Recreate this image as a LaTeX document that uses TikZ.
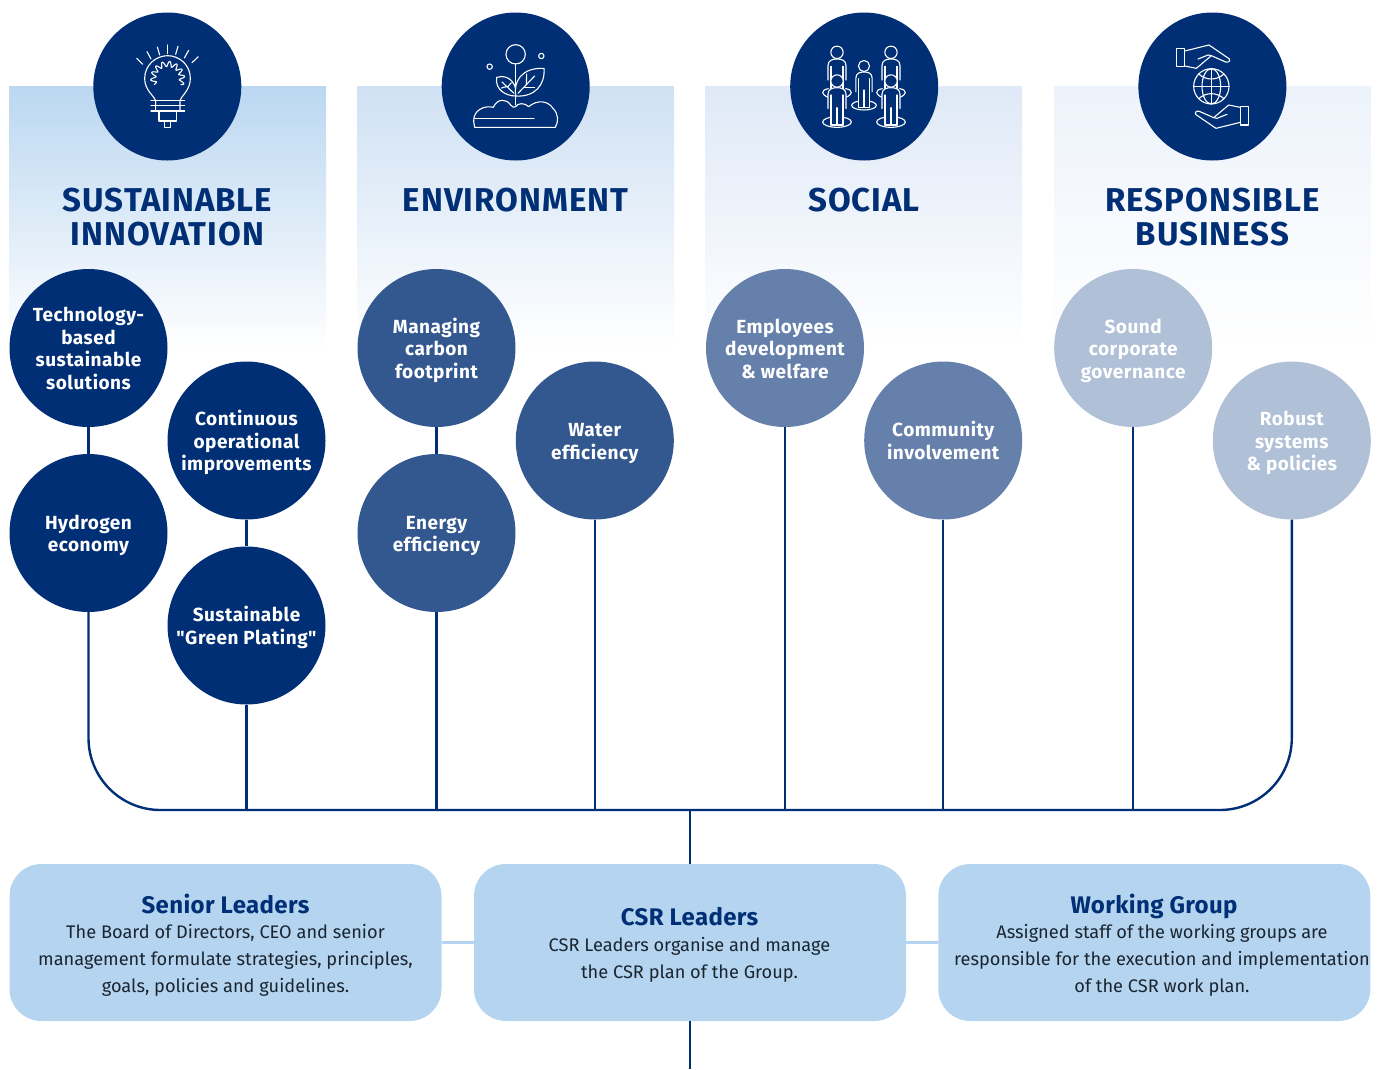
\documentclass[tikz,border=0pt]{standalone}
\usepackage{fontspec}
\setmainfont{Fira Sans}
\newfontfamily\headf[LetterSpace=3]{Fira Sans}
\newfontfamily\topicf[LetterSpace=2.6]{Fira Sans}
\newfontfamily\titlef[LetterSpace=1.5]{Fira Sans}
\usetikzlibrary{calc}
\definecolor{navy}{HTML}{002F75}
\definecolor{cA}{HTML}{33578F}
\definecolor{cB}{HTML}{6680AC}
\definecolor{cC}{HTML}{B0C0D7}
\definecolor{boxc}{HTML}{B5D4F0}
\definecolor{pA}{HTML}{BBD7F1}
\definecolor{pB}{HTML}{CFE1F4}
\definecolor{pC}{HTML}{DFE9F7}
\definecolor{pD}{HTML}{EDF3FB}
\definecolor{bodyc}{HTML}{1A2530}
\newcommand\ts{\rule{0pt}{20pt}}
\tikzset{
  topic/.style={circle,minimum size=158pt,inner sep=0pt,text=white,align=center,
    font=\fontsize{19}{22.5}\selectfont\topicf\bfseries,
    execute at end node={\rule[-5pt]{0pt}{5pt}}},
  iconc/.style={circle,minimum size=148pt,inner sep=0pt,fill=navy},
  head/.style={align=center,text=navy,font=\fontsize{33}{34}\selectfont\headf\bfseries},
  wire/.style={draw=navy,line width=2.4pt},
  softwire/.style={draw=boxc,line width=3pt},
  panelbox/.style={rounded corners=32pt,fill=boxc,minimum width=432pt,minimum height=157pt,inner sep=0pt},
  boxtitle/.style={text=navy,font=\fontsize{24}{26}\selectfont\titlef\bfseries},
  boxtext/.style={text=bodyc,align=center,font=\fontsize{18.2}{27}\selectfont},
  ic/.style={draw=white,line width=1.1pt,line join=round,line cap=round},
  zoomed/.style={x=0.33333pt,y=-0.33333pt}
}
\newcommand\zperson[4]{% x, head y, body bottom (legs), scale factor
  \draw[ic,fill=navy] ({#1-#4*27},{#2+#4*55+28}) -- ({#1-#4*27},{#2+#4*40}) .. controls ({#1-#4*27},{#2+#4*24}) and ({#1-#4*14},{#2+#4*20}) .. (#1,{#2+#4*20}) .. controls ({#1+#4*14},{#2+#4*20}) and ({#1+#4*27},{#2+#4*24}) .. ({#1+#4*27},{#2+#4*40}) -- ({#1+#4*27},{#2+#4*55+28});
  \draw[ic,fill=navy] ({#1-#4*18},{#2+#4*42}) -- ({#1-#4*18},#3) -- ({#1+#4*18},#3) -- ({#1+#4*18},{#2+#4*42});
  \draw[ic] (#1,{#2+#4*80}) -- (#1,#3);
  \draw[ic,fill=navy] (#1,#2) circle[radius=#4*18.5];
}
\newcommand\zring[4]{% x,y,rx,ry
  \draw[ic] (#1,#2) ellipse[x radius=#3,y radius=#4];
}
\begin{document}
\begin{tikzpicture}[x=1pt,y=-1pt]
\useasboundingbox (0,0) rectangle (1382,1069);
% gradient panels
\shade[top color=pA,bottom color=white] (9,86) rectangle (326,350);
\shade[top color=pB,bottom color=white] (357,86) rectangle (674,350);
\shade[top color=pC,bottom color=white] (705,86) rectangle (1022,350);
\shade[top color=pD,bottom color=white] (1054,86) rectangle (1371,350);
% icon discs
\node[iconc] (i1) at (167.3,86.5) {};
\node[iconc] (i2) at (515.7,86.5) {};
\node[iconc] (i3) at (864.2,86.5) {};
\node[iconc] (i4) at (1212.4,86.5) {};
% headings
\node[head] (h1) at (167.5,217.5) {SUSTAINABLE\\INNOVATION};
\node[head] (h2) at (515.5,200.5) {ENVIRONMENT};
\node[head] (h3) at (864,200.5) {SOCIAL};
\node[head] (h4) at (1212.5,217.5) {RESPONSIBLE\\BUSINESS};
% topics
\node[topic,fill=navy] (a) at (88.5,348) {\ts Technology-\\based\\sustainable\\solutions};
\node[topic,fill=navy] (b) at (88.5,533) {\ts Hydrogen\\economy};
\node[topic,fill=navy] (c) at (246.5,440.5) {\ts Continuous\\operational\\improvements};
\node[topic,fill=navy] (d) at (246.5,625.5) {\ts Sustainable\\"Green Plating"};
\node[topic,fill=cA] (e) at (436.5,348) {\ts Managing\\carbon\\footprint};
\node[topic,fill=cA] (f) at (436.5,533) {\ts Energy\\efficiency};
\node[topic,fill=cA] (g) at (594.8,440.5) {\ts Water\\efficiency};
\node[topic,fill=cB] (j) at (785,348) {\ts Employees\\development\\\& welfare};
\node[topic,fill=cB] (k) at (943.2,440.5) {\ts Community\\involvement};
\node[topic,fill=cC] (m) at (1133.2,348) {\ts Sound\\corporate\\governance};
\node[topic,fill=cC] (n) at (1291.8,440.5) {\ts Robust\\systems\\\& policies};
% boxes
\node[panelbox] (s) at (225.5,942.5) {};
\node[panelbox] (l) at (690,942.5) {};
\node[panelbox] (w) at (1154.3,942.5) {};
\node[boxtitle] (st) at (225.5,903.5) {Senior Leaders};
\node[boxtext] (sd) at (225.5,960.5) {The Board of Directors, CEO and senior\\management formulate strategies, principles,\\goals, policies and guidelines.};
\node[boxtitle] (lt) at (689.5,917) {CSR Leaders};
\node[boxtext] (ld) at (689.5,960) {CSR Leaders organise and manage\\the CSR plan of the Group.};
\node[boxtitle] (wt) at (1154,906) {Working Group};
\node[boxtext] (wd) at (1162,960.5) {Assigned staff of the working groups are\\responsible for the execution and implementation\\of the CSR work plan.};
% connectors
\coordinate (busy) at (0,810);
\coordinate (foot) at (690,1069);
\draw[wire] (a.south) -- (b.north);
\draw[wire] (c.south) -- (d.north);
\draw[wire] (e.south) -- (f.north);
\draw[wire,rounded corners=72pt] (b.south) -- (b.south |- busy) -- (n.south |- busy) -- (n.south);
\draw[wire] (d.south) -- (d.south |- busy);
\draw[wire] (f.south) -- (f.south |- busy);
\draw[wire] (g.south) -- (g.south |- busy);
\draw[wire] (j.south) -- (j.south |- busy);
\draw[wire] (k.south) -- (k.south |- busy);
\draw[wire] (m.south) -- (m.south |- busy);
\draw[wire] (l.north |- busy) -- (l.north);
\draw[wire] (l.south) -- (foot);
\draw[softwire] (s.east) -- (l.west);
\draw[softwire] (l.east) -- (w.west);
% icon 1: bulb
\begin{scope}[shift={(90,10)},zoomed]
  \draw[ic] (140,145) -- (158,163);
  \draw[ic] (171,125) -- (183,147);
  \draw[ic] (202,111) -- (209,135);
  \draw[ic] (233,105) -- (233,131);
  \draw[ic] (264,109) -- (257,133);
  \draw[ic] (296,121) -- (283,144);
  \draw[ic] (325,140) -- (306,158);
  \draw[ic] (197,303) -- (197,272) .. controls (190,255) and (164,240) .. (164,205)
     .. controls (164,165) and (198,137) .. (233,137)
     .. controls (268,137) and (301,165) .. (301,205)
     .. controls (301,240) and (276,255) .. (270,272) -- (270,303);
  \draw[ic] plot[domain=-25:205,samples=140] ({233+(43+8*sin(\x*14.1))*cos(\x)},{205-(43+8*sin(\x*14.1))*sin(\x)});
  \draw[ic] (183,272) -- (284,272);
  \draw[ic] (183,287) -- (284,287);
  \draw[ic] (183,303) -- (284,303);
  \draw[ic] (207,303) rectangle (259,333);
  \draw[ic] (224,333) rectangle (241,353);
\end{scope}
% icon 2: plant
\begin{scope}[shift={(438,10)},zoomed]
  \draw[ic] (233,133) circle[radius=29];
  \draw[ic] (310,138) circle[radius=8];
  \draw[ic] (155,170) circle[radius=8];
  \draw[ic] (233,162) -- (233,285);
  \draw[ic] (233,258) .. controls (226,215) and (250,172) .. (318,175)
     .. controls (322,225) and (290,262) .. (233,258);
  \draw[ic] (240,250) -- (290,198);
  \draw[ic] (265,224) -- (266,192);
  \draw[ic] (260,232) -- (290,232);
  \draw[ic] (233,258) .. controls (205,258) and (170,240) .. (176,202)
     .. controls (195,196) and (222,200) .. (233,235);
  \draw[ic] (228,250) -- (192,216);
  \draw[ic] (208,232) -- (220,218);
  \draw[ic] (205,230) -- (190,234);
  \draw[ic] (110,352) -- (352,352) .. controls (362,335) and (362,312) .. (345,295)
     .. controls (330,272) and (298,268) .. (272,290)
     .. controls (260,278) and (240,278) .. (233,290)
     .. controls (228,294) and (224,292) .. (218,285)
     .. controls (205,265) and (178,265) .. (166,292)
     .. controls (140,285) and (105,300) .. (107,335) -- (110,352);
  \draw[ic] (110,325) -- (288,325);
\end{scope}
% icon 3: people
\begin{scope}[shift={(785,10)},zoomed]
  \zperson{156}{127}{236}{1}
  \zperson{318}{127}{236}{1}
  \zring{156}{336}{43}{16}
  \zring{318}{336}{43}{16}
  \zring{237}{286}{37}{14}
  \zperson{237}{168}{292}{0.9}
  \draw[ic] (130,236) .. controls (105,240) and (110,255) .. (130,262);
  \draw[ic] (182,236) .. controls (207,240) and (202,255) .. (182,262);
  \draw[ic] (292,236) .. controls (267,240) and (272,255) .. (292,262);
  \draw[ic] (344,236) .. controls (369,240) and (364,255) .. (344,262);
  \zperson{156}{213}{345}{1}
  \zperson{318}{213}{345}{1}
\end{scope}
% icon 4: hands and globe
\begin{scope}[shift={(1133,10)},zoomed]
  \foreach \ang in {0,180}{
    \begin{scope}[rotate around={\ang:(238.5,230)}]
      \draw[ic] (131,115) rectangle (155,170);
      \draw[ic] (155,123) -- (228,105) -- (288,146) .. controls (294,152) and (286,159) .. (278,156)
        -- (235,137) -- (190,175) -- (155,168);
      \draw[ic] (195,147) -- (225,135) -- (235,137);
    \end{scope}
  }
  \draw[ic] (235,229) circle[radius=53];
  \draw[ic] (235,229) ellipse[x radius=28,y radius=53];
  \draw[ic] (235,176) -- (235,282);
  \draw[ic] (182,229) -- (288,229);
  \draw[ic] (197,192) .. controls (220,212) and (250,212) .. (273,192);
  \draw[ic] (197,266) .. controls (220,246) and (250,246) .. (273,266);
\end{scope}
\end{tikzpicture}
\end{document}
